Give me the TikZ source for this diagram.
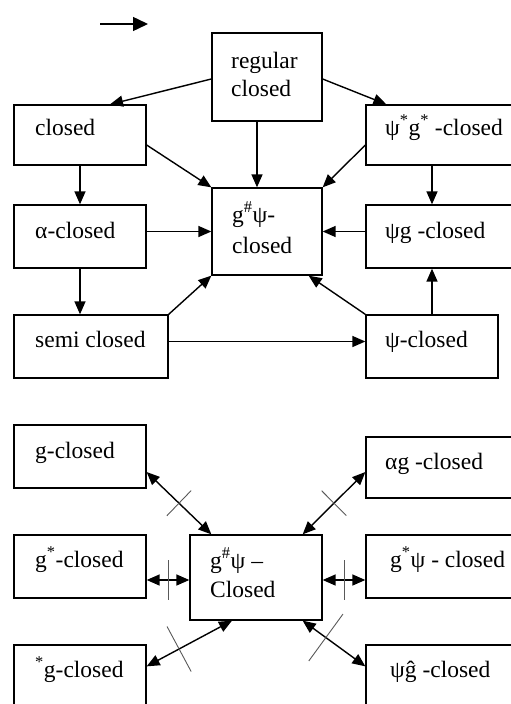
\documentclass[tikz,border=0pt]{standalone}
\usepackage{fontspec}
\setmainfont{Liberation Serif}
\usetikzlibrary{arrows.meta,calc}
\begin{document}
\begin{tikzpicture}[x=1pt,y=-1pt,
  box/.style={draw, line width=1.3pt, inner sep=0pt, rectangle},
  lbl/.style={anchor=base west, inner sep=0pt, font=\fontsize{23.5}{28}\selectfont},
  arr/.style={line width=1.4pt, -{Triangle[length=13pt,width=11pt]}},
  darr/.style={line width=1.4pt, {Triangle[length=13pt,width=11pt]}-{Triangle[length=13pt,width=11pt]}},
  xmark/.style={line width=0.9pt, draw=black!65}]
\useasboundingbox (0,0) rectangle (511,704);
\clip (0,0) rectangle (511,704);
% boxes
\node[box, minimum width=110pt, minimum height=88pt] (reg) at (267,77) {};
\node[box, minimum width=132pt, minimum height=60pt] (cl) at (80,135) {};
\node[box, minimum width=154pt, minimum height=60pt] (psg) at (443,135) {};
\node[box, minimum width=132pt, minimum height=63pt] (al) at (80,236.5) {};
\node[box, minimum width=110pt, minimum height=87pt] (gp) at (267,231.5) {};
\node[box, minimum width=154pt, minimum height=63pt] (pg) at (443,236.5) {};
\node[box, minimum width=154pt, minimum height=63pt] (semi) at (91,346.5) {};
\node[box, minimum width=132pt, minimum height=63pt] (psi) at (432,346.5) {};
\node[box, minimum width=132pt, minimum height=63pt] (gc) at (80,456.5) {};
\node[box, minimum width=154pt, minimum height=61pt] (ag) at (443,467.5) {};
\node[box, minimum width=132pt, minimum height=63pt] (gs) at (80,566.5) {};
\node[box, minimum width=132pt, minimum height=85pt] (c2) at (256,577.5) {};
\node[box, minimum width=154pt, minimum height=63pt] (gsp) at (443,566.5) {};
\node[box, minimum width=132pt, minimum height=75pt] (sg) at (80,682.5) {};
\node[box, minimum width=154pt, minimum height=75pt] (pgh) at (443,682.5) {};
% labels
\node[lbl] (treg1) at (231,68) {regular};
\node[lbl] (treg2) at (231,96) {closed};
\node[lbl] (tcl) at (35,135) {closed};
\node[lbl] (tpsg) at (385,135) {ψ\textsuperscript{*}g\textsuperscript{*} -closed};
\node[lbl] (tal) at (35,238) {α-closed};
\node[lbl] (tgp1) at (232,222) {g\textsuperscript{\#}ψ-};
\node[lbl] (tgp2) at (232,253) {closed};
\node[lbl] (tpg) at (385,238) {ψg -closed};
\node[lbl] (tsemi) at (35,347) {semi closed};
\node[lbl] (tpsi) at (385,347) {ψ-closed};
\node[lbl] (tgc) at (35,458) {g-closed};
\node[lbl] (tag) at (385,469) {αg -closed};
\node[lbl] (tgs) at (35,567) {g\textsuperscript{*}-closed};
\node[lbl] (tc21) at (210,568) {g\textsuperscript{\#}ψ –};
\node[lbl] (tc22) at (210,597) {Closed};
\node[lbl] (tgsp) at (390,567) {g\textsuperscript{*}ψ - closed};
\node[lbl] (tsg) at (35,677) {\textsuperscript{*}g-closed};
\node[lbl] (tpgh) at (390,677) {ψĝ -closed};
% top free arrow
\coordinate (t1) at (100,24);
\coordinate (t2) at (148,24);
\draw[line width=1.5pt, -{Triangle[length=15pt,width=14pt]}] (t1) -- (t2);
% upper diagram
\draw[arr] ([yshift=-2pt]reg.west) -- ([xshift=30pt]cl.north);
\draw[arr] ([yshift=-2pt]reg.east) -- ([xshift=21pt]psg.north west);
\draw[arr] ([xshift=-10pt]reg.south) -- ([xshift=-10pt]gp.north);
\draw[arr] ([yshift=-10pt]cl.east) -- (gp.north west);
\draw[arr] ([yshift=-10pt]psg.west) -- (gp.north east);
\draw[arr] (cl.south) -- (al.north);
\draw[arr] (gp.west -| al.east) -- (gp.west);
\draw[arr] (gp.east -| pg.west) -- (gp.east);
\draw[arr] ([xshift=-11pt]psg.south) -- ([xshift=-11pt]pg.north);
\draw[arr] (al.south) -- (al.south |- semi.north);
\draw[arr] (semi.north east) -- (gp.south west);
\draw[arr] (psi.north west) -- ([xshift=-14pt]gp.south east);
\draw[arr] ([yshift=5pt]semi.east) -- ([yshift=5pt]psi.west);
\draw[arr] (psi.north) -- (psi.north |- pg.south);
% lower diagram
\coordinate (a1) at ([yshift=-15.5pt]gc.east);
\coordinate (b1) at ([xshift=22pt]c2.north west);
\draw[darr] (a1) -- (b1);
\coordinate (m1) at ($(a1)!0.5!(b1)$);
\draw[xmark] ($(m1)!17.5pt!90:(b1)$) -- ($(m1)!17.5pt!-90:(b1)$);
\coordinate (a2) at ([yshift=-4.5pt]ag.west);
\coordinate (b2) at ([xshift=-20pt]c2.north east);
\draw[darr] (a2) -- (b2);
\coordinate (m2) at ($(a2)!0.5!(b2)$);
\draw[xmark] ($(m2)!17.5pt!90:(b2)$) -- ($(m2)!17.5pt!-90:(b2)$);
\coordinate (a3) at ($(c2.west -| gs.east)+(0,2.5)$);
\coordinate (b3) at ($(c2.west)+(0,2.5)$);
\draw[darr] (a3) -- (b3);
\coordinate (m3) at ($(a3)!0.5!(b3)$);
\draw[xmark] ($(m3)!20pt!90:(b3)$) -- ($(m3)!20pt!-90:(b3)$);
\coordinate (a4) at ($(c2.east)+(0,2.5)$);
\coordinate (b4) at ($(c2.east -| gsp.west)+(0,2.5)$);
\draw[darr] (a4) -- (b4);
\coordinate (m4) at ($(a4)!0.5!(b4)$);
\draw[xmark] ($(m4)!20pt!90:(b4)$) -- ($(m4)!20pt!-90:(b4)$);
\coordinate (a5) at ([yshift=-22pt]sg.north east);
\coordinate (b5) at ([xshift=-24pt]c2.south);
\draw[darr] (a5) -- (b5);
\coordinate (m5) at ($(a5)!0.38!(b5)$);
\draw[xmark] ($(m5)!25.5pt!90:(b5)$) -- ($(m5)!25.5pt!-90:(b5)$);
\coordinate (a6) at ([yshift=-22pt]pgh.north west);
\coordinate (b6) at ([xshift=-20pt]c2.south east);
\draw[darr] (a6) -- (b6);
\coordinate (m6) at ($(a6)!0.63!(b6)$);
\draw[xmark] ($(m6)!29pt!90:(b6)$) -- ($(m6)!29pt!-90:(b6)$);
\end{tikzpicture}
\end{document}
